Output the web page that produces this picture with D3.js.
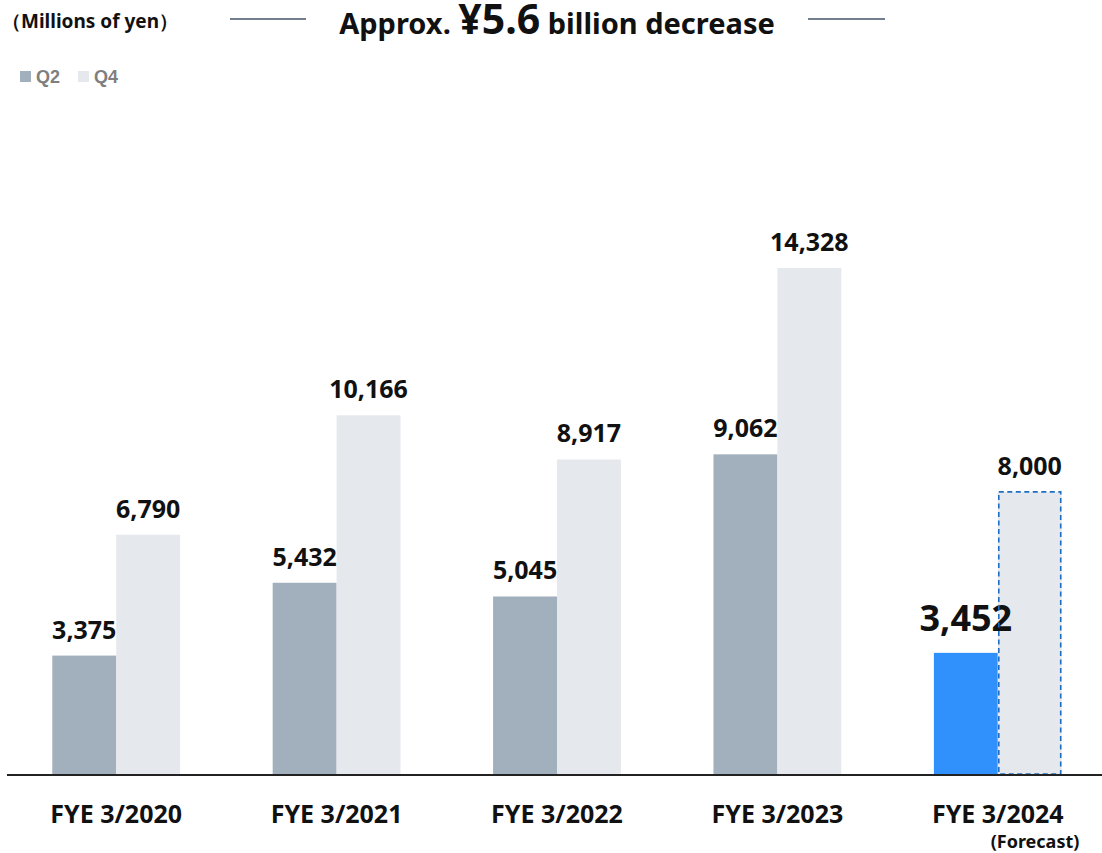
<!DOCTYPE html>
<html lang="en">
<head>
  <meta charset="UTF-8">
  <title>Q2 / Q4 by fiscal year</title>
  <script src="https://d3js.org/d3.v7.min.js"></script>
  <style>
    body {
      margin: 0;
      background: #fff;
      font-family: 'Noto Sans', 'Open Sans', sans-serif;
    }
    svg { display: block; }
  </style>
</head>
<body>
<svg width="1102" height="853"></svg>
<script>
const years = ["FYE 3/2020", "FYE 3/2021", "FYE 3/2022", "FYE 3/2023", "FYE 3/2024"];
const q2 = [3375, 5432, 5045, 9062, 3452];
const q4 = [6790, 10166, 8917, 14328, 8000];
const series = ["Q2", "Q4"];

const svg = d3.select("svg");
const baseY = 775;

const x0 = d3.scaleBand().domain(years).range([6, 1108]).paddingInner(0.42).paddingOuter(0.21);
const x1 = d3.scaleBand().domain(series).range([0, x0.bandwidth()]);
const y = d3.scaleLinear().domain([0, 14328]).range([baseY, 268]);

const color = {Q2: "#a2afbd", Q4: "#e5e8ed"};
const fmt = d3.format(",");

const rows = years.map((yr, i) => ({year: yr, i, vals: [
  {key: "Q2", v: q2[i]}, {key: "Q4", v: q4[i]}
]}));

const g = svg.selectAll("g.grp").data(rows).join("g")
  .attr("class", "grp")
  .attr("transform", d => `translate(${x0(d.year)},0)`);

g.selectAll("rect").data(d => d.vals.map(v => ({...v, last: d.i === years.length - 1})))
  .join("rect")
  .attr("x", d => x1(d.key))
  .attr("y", d => y(d.v))
  .attr("width", x1.bandwidth())
  .attr("height", d => baseY - y(d.v))
  .attr("fill", d => d.last && d.key === "Q2" ? "#3091fc" : color[d.key]);

// forecast outline
const last = years[years.length - 1];
svg.append("rect")
  .attr("x", x0(last) + x1("Q4") + 1)
  .attr("y", y(q4[q4.length - 1]))
  .attr("width", x1.bandwidth() - 2)
  .attr("height", baseY - y(q4[q4.length - 1]) - 1)
  .attr("fill", "none")
  .attr("stroke", "#1e6fc4")
  .attr("stroke-width", 1.6)
  .attr("stroke-dasharray", "5 3.5");

// value labels
g.selectAll("text.val").data(d => d.vals.map(v => ({...v, last: d.i === years.length - 1})))
  .join("text")
  .attr("class", "val")
  .attr("x", d => x1(d.key) + x1.bandwidth() / 2)
  .attr("y", d => y(d.v) - (d.last && d.key === "Q2" ? 22 : 17))
  .attr("text-anchor", "middle")
  .attr("font-weight", "bold")
  .attr("font-size", d => d.last && d.key === "Q2" ? 36 : 25)
  .attr("fill", "#111")
  .text(d => fmt(d.v));

// baseline
svg.append("line")
  .attr("x1", 7).attr("x2", 1102)
  .attr("y1", baseY).attr("y2", baseY)
  .attr("stroke", "#222").attr("stroke-width", 2);

// x labels
svg.append("g").selectAll("text").data(years).join("text")
  .attr("x", d => x0(d) + x0.bandwidth() / 2)
  .attr("y", 823)
  .attr("text-anchor", "middle")
  .attr("font-weight", "bold")
  .attr("font-size", 25)
  .attr("fill", "#111")
  .text(d => d);

svg.append("text")
  .attr("x", 1035).attr("y", 848)
  .attr("text-anchor", "middle")
  .attr("font-weight", "bold")
  .attr("font-size", 18)
  .attr("fill", "#111")
  .text("(Forecast)");

// unit
svg.append("text")
  .attr("x", 2).attr("y", 28)
  .attr("font-weight", "bold")
  .attr("font-size", 19)
  .attr("fill", "#111")
  .text("（Millions of yen）");

// title with side lines
const title = svg.append("text")
  .attr("x", 557).attr("y", 34)
  .attr("text-anchor", "middle")
  .attr("font-weight", "bold")
  .attr("fill", "#111");
title.append("tspan").attr("font-size", 29).text("Approx. ");
title.append("tspan").attr("font-size", 41).text("¥5.6");
title.append("tspan").attr("font-size", 29).text(" billion decrease");

[[230, 306], [808, 885]].forEach(([a, b]) => {
  svg.append("line")
    .attr("x1", a).attr("x2", b).attr("y1", 19).attr("y2", 19)
    .attr("stroke", "#44546a").attr("stroke-width", 1.5);
});

// legend
const leg = svg.append("g").attr("transform", "translate(20,71)");
const items = leg.selectAll("g").data(series).join("g")
  .attr("transform", (d, i) => `translate(${i * 58},0)`);
items.append("rect").attr("width", 11).attr("height", 11).attr("fill", d => color[d]);
items.append("text")
  .attr("x", 16).attr("y", 12)
  .attr("font-family", "'Liberation Sans', Arial, sans-serif")
  .attr("font-weight", "bold")
  .attr("font-size", 18)
  .attr("fill", "#7f7f7f")
  .text(d => d);
</script>
</body>
</html>
